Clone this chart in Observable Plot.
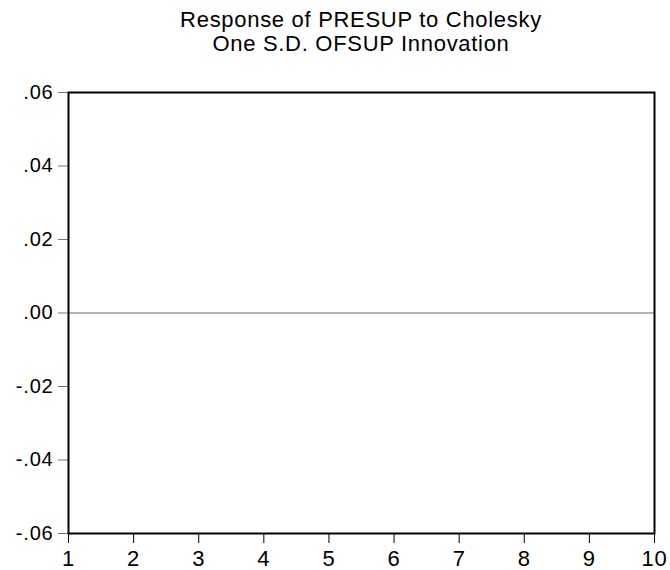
<!DOCTYPE html>
<html>
<head>
<meta charset="utf-8">
<script src="https://cdn.jsdelivr.net/npm/d3@7"></script>
<script src="https://cdn.jsdelivr.net/npm/@observablehq/plot@0.6"></script>
<style>
  body { margin: 0; background: #fff; }
  #title {
    margin-left: 68px; width: 586px; padding-top: 8px; height: 54px;
    text-align: center; font-family: "Liberation Sans", Arial, sans-serif;
    font-size: 22px; line-height: 24px; color: #000; letter-spacing: 0.7px;
  }
  svg text { letter-spacing: 0.8px; }
</style>
</head>
<body>
<div id="title">Response of PRESUP to Cholesky<br>One S.D. OFSUP Innovation</div>
<div id="chart"></div>
<script>
const periods = [1, 2, 3, 4, 5, 6, 7, 8, 9, 10];
const yTicks = [-0.06, -0.04, -0.02, 0, 0.02, 0.04, 0.06];
const yDomain = [-0.06, 0.06];
const zeroLine = [0];

const fmtY = d => {
  if (Math.abs(d) < 1e-12) return ".00";
  const s = Math.abs(d).toFixed(2).replace(/^0/, "");
  return (d < 0 ? "-" : "") + s;
};

const chart = Plot.plot({
  width: 670,
  height: 508,
  marginTop: 30,
  marginBottom: 37,
  marginLeft: 68,
  marginRight: 16,
  style: { fontFamily: "'Liberation Sans', Arial, sans-serif", fontSize: "20px", color: "#000", background: "#fff", overflow: "visible" },
  x: { domain: [periods[0], periods[periods.length - 1]] },
  y: { domain: yDomain },
  marks: [
    Plot.ruleY(zeroLine, { stroke: "#666", strokeWidth: 1 }),
    Plot.axisY({ ticks: yTicks, tickFormat: fmtY, tickSize: 10, tickPadding: 5, stroke: "#777", fill: "#000", fontSize: 20, label: null }),
    Plot.axisX({ ticks: periods, tickFormat: d => String(d), tickSize: 10, tickPadding: 7, stroke: "#000", fill: "#000", fontSize: 22, label: null }),
    Plot.frame({ stroke: "#000", strokeWidth: 2 })
  ]
});
document.getElementById("chart").appendChild(chart);
</script>
</body>
</html>
